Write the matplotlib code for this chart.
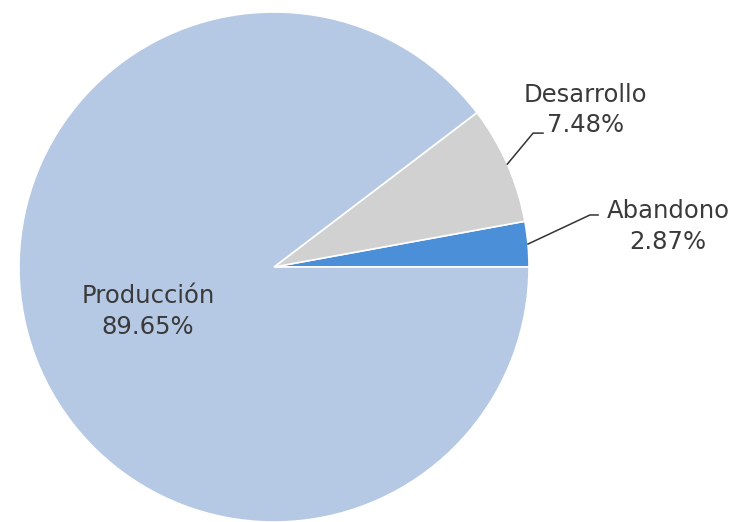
import matplotlib.pyplot as plt
import numpy as np

# Data
labels = ['Abandono', 'Desarrollo', 'Producción']
values = [2.87, 7.48, 89.65]
colors = ['#4a8fd8', '#d1d1d1', '#b5c8e4']

plt.rcParams['font.family'] = ['DejaVu Sans']

fig = plt.figure(figsize=(7.42, 5.22), dpi=100)
ax = fig.add_axes([0, 0, 1, 1])

wedges, _ = ax.pie(values, colors=colors, startangle=0, counterclock=True,
                   radius=1.0, wedgeprops=dict(edgecolor='white', linewidth=1.2))

# scale: 1 unit = 255 px, pie centre at (274, 267) px
ax.set_xlim(-274 / 255, (742 - 274) / 255)
ax.set_ylim(-(522 - 267) / 255, 267 / 255)
ax.set_aspect('auto')
ax.axis('off')

txt_color = '#3a3a3a'
fs = 17.5

# leader lines from wedge edge (mid angle) to label
elbows = {'Desarrollo': [(1.016, 0.525), (1.055, 0.525)],
          'Abandono': [(1.239, 0.204), (1.271, 0.204)]}
text_pos = {'Desarrollo': (1.22, 0.616), 'Abandono': (1.545, 0.159),
            'Producción': (-0.494, -0.175)}

for w, lab, val in zip(wedges, labels, values):
    mid = np.radians((w.theta1 + w.theta2) / 2)
    pct = f'{lab}\n{val:.2f}%'
    if lab in elbows:
        x0, y0 = np.cos(mid), np.sin(mid)
        pts = [(x0, y0)] + elbows[lab]
        ax.plot([p[0] for p in pts], [p[1] for p in pts], color='#333333', lw=1.1)
    tx, ty = text_pos[lab]
    ax.text(tx, ty, pct, ha='center', va='center', fontsize=fs,
            color=txt_color, linespacing=1.35)

fig.savefig('out.png', dpi=100, facecolor='white')
